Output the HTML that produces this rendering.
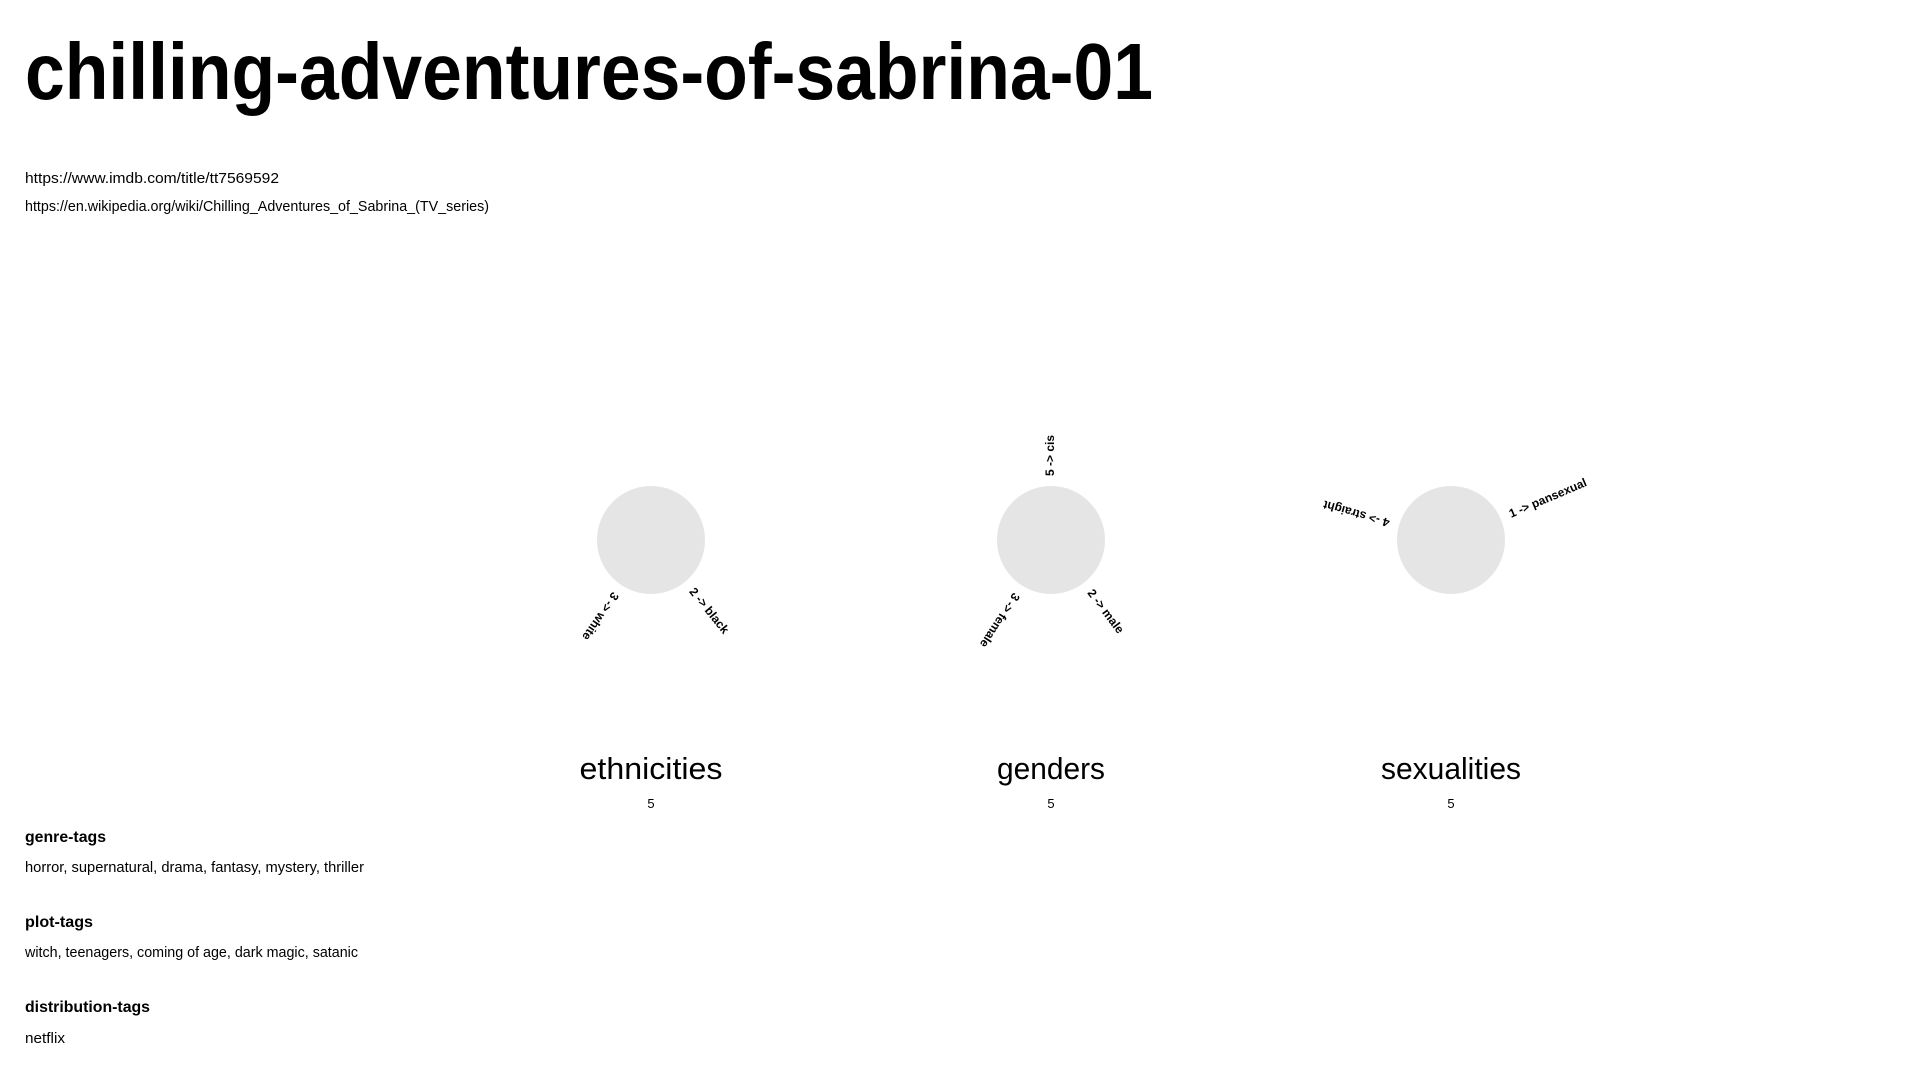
<!DOCTYPE html>
<html><head><meta charset="utf-8"><style>
html,body{margin:0;padding:0;background:#fff;width:1920px;height:1080px;overflow:hidden}
svg{display:block;font-family:"Liberation Sans",sans-serif}
</style></head><body>
<svg id="page" width="1920" height="1080" viewBox="0 0 1920 1080">
<text x="25" y="99" font-size="80" font-weight="bold" textLength="1128" lengthAdjust="spacingAndGlyphs">chilling-adventures-of-sabrina-01</text>
<text x="25" y="183" font-size="15" textLength="254" lengthAdjust="spacingAndGlyphs">https://www.imdb.com/title/tt7569592</text>
<text x="25" y="211" font-size="15" textLength="464" lengthAdjust="spacingAndGlyphs">https://en.wikipedia.org/wiki/Chilling_Adventures_of_Sabrina_(TV_series)</text>
<g id="charts"></g>
<text x="25" y="842" font-size="16" font-weight="bold" textLength="81" lengthAdjust="spacingAndGlyphs">genre-tags</text>
<text x="25" y="872" font-size="15" textLength="339" lengthAdjust="spacingAndGlyphs">horror, supernatural, drama, fantasy, mystery, thriller</text>
<text x="25" y="927" font-size="16" font-weight="bold" textLength="68" lengthAdjust="spacingAndGlyphs">plot-tags</text>
<text x="25" y="957" font-size="15" textLength="333" lengthAdjust="spacingAndGlyphs">witch, teenagers, coming of age, dark magic, satanic</text>
<text x="25" y="1012" font-size="16" font-weight="bold" textLength="125" lengthAdjust="spacingAndGlyphs">distribution-tags</text>
<text x="25" y="1043" font-size="15" textLength="40" lengthAdjust="spacingAndGlyphs">netflix</text>
</svg>
<script>
const chartTitles = ["ethnicities", "genders", "sexualities"];
const chartTotals = [5, 5, 5];
const ethnicityLabels = ["white", "black"];
const ethnicityCounts = [3, 2];
const ethnicityAngles = [124, 51];
const genderLabels = ["cis", "female", "male"];
const genderCounts = [5, 3, 2];
const genderAngles = [-90, 123, 53];
const sexualityLabels = ["straight", "pansexual"];
const sexualityCounts = [4, 1];
const sexualityAngles = [196, -23];

const groups = [
  [ethnicityLabels, ethnicityCounts, ethnicityAngles],
  [genderLabels, genderCounts, genderAngles],
  [sexualityLabels, sexualityCounts, sexualityAngles]
];
const titleLengths = [143, 108, 140];
const NS = "http://www.w3.org/2000/svg";
const root = document.getElementById("charts");
const cx0 = 651, dx = 400, cy = 540, r = 54;
function xPos(i){ return cx0 + i * dx; }

chartTitles.forEach((t, i) => {
  const cx = xPos(i);
  const g = document.createElementNS(NS, "g");
  
  
  const c = document.createElementNS(NS, "circle");
  c.setAttribute("cx", cx); c.setAttribute("cy", cy); c.setAttribute("r", r);
  c.setAttribute("fill", "#e5e5e5");
  
  
  g.appendChild(c);
  const [labels, counts, angles] = groups[i];
  labels.forEach((lab, j) => {
    const tx = document.createElementNS(NS, "text");
    tx.setAttribute("transform", `translate(${cx},${cy}) rotate(${angles[j]}) translate(${r + 10},0)`);
    tx.setAttribute("font-size", "12");
    tx.setAttribute("font-weight", "bold");
    tx.setAttribute("dominant-baseline", "middle");
    tx.setAttribute("xml:space", "preserve");
    tx.textContent = counts[j] + " ->   " + lab;
    
    
    g.appendChild(tx);
  });
  const title = document.createElementNS(NS, "text");
  title.setAttribute("x", cx - titleLengths[i] / 2); title.setAttribute("y", 779);
  title.setAttribute("font-size", "31");
  title.setAttribute("textLength", titleLengths[i]);
  title.setAttribute("lengthAdjust", "spacingAndGlyphs");
  title.textContent = t;
  
  
  g.appendChild(title);
  const tot = document.createElementNS(NS, "text");
  tot.setAttribute("x", cx); tot.setAttribute("y", 817 - 9);
  tot.setAttribute("font-size", "13"); tot.setAttribute("text-anchor", "middle");
  tot.textContent = chartTotals[i];
  
  
  g.appendChild(tot);
  root.appendChild(g);
});
</script>
</body></html>
